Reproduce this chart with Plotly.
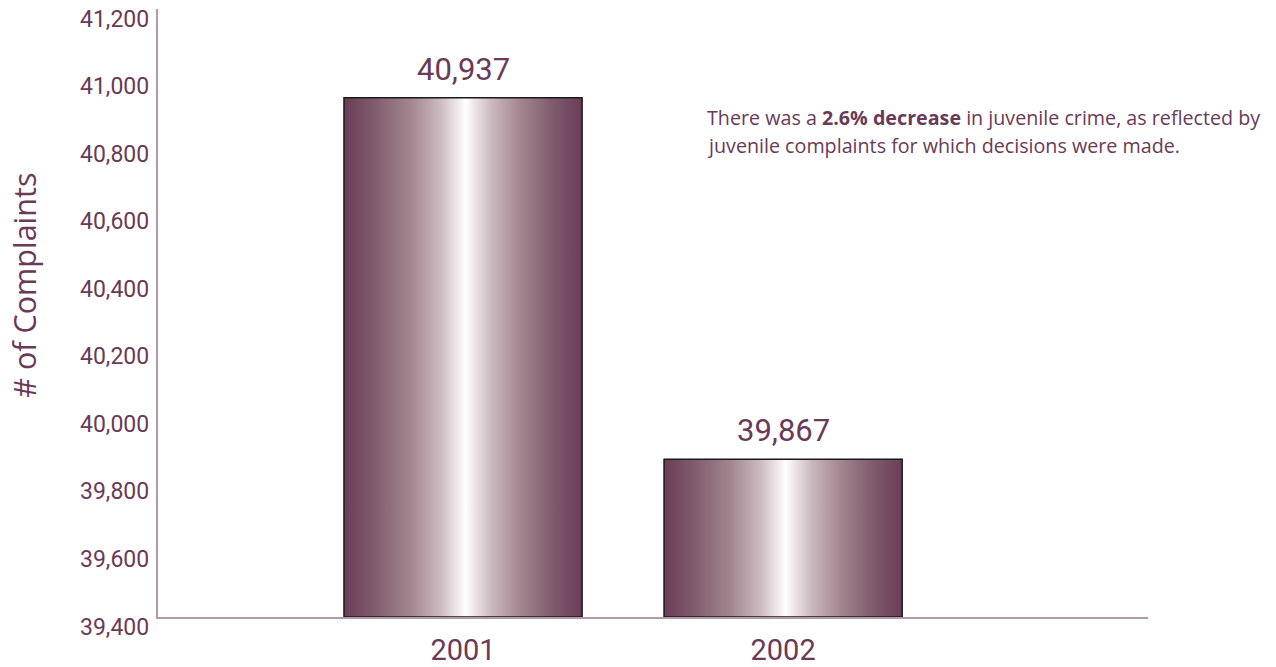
import plotly.graph_objects as go

categories = ["2001", "2002"]
values = [40937, 39867]
value_labels = ["40,937", "39,867"]
y_ticks = [39400, 39600, 39800, 40000, 40200, 40400, 40600, 40800, 41000, 41200]
y_tick_labels = ["39,400", "39,600", "39,800", "40,000", "40,200", "40,400", "40,600", "40,800", "41,000", "41,200"]
y_title = "# of Complaints"
note_lines = ["There was a <b>2.6% decrease</b> in juvenile crime, as reflected by",
              "juvenile complaints for which decisions were made."]

Y_MIN, Y_MAX = 39400, 41200
BAR_W = 0.744
PURPLE = "#6a3a57"
AXIS_C = "#b39aa8"
FONT = "Roboto"

grad = [
    [0.0, "#6a3d57"],
    [0.12, "#7e5a6c"],
    [0.28, "#a38690"],
    [0.40, "#cbb8be"],
    [0.47, "#ece4e6"],
    [0.51, "#ffffff"],
    [0.55, "#ece4e6"],
    [0.62, "#cbb8be"],
    [0.74, "#a38690"],
    [0.88, "#7e5a6c"],
    [1.0, "#6a3d57"],
]

fig = go.Figure()
for i, (cat, v) in enumerate(zip(categories, values)):
    x0, x1 = i - BAR_W / 2, i + BAR_W / 2
    fig.add_trace(go.Scatter(
        x=[x0, x1, x1, x0, x0],
        y=[Y_MIN, Y_MIN, v, v, Y_MIN],
        mode="lines",
        fill="toself",
        fillgradient=dict(type="horizontal", colorscale=grad),
        line=dict(color="#1a1a1a", width=1.5),
        hoverinfo="skip",
        showlegend=False,
    ))

annotations = []
for i, (v, lab) in enumerate(zip(values, value_labels)):
    annotations.append(dict(x=i, y=v, xref="x", yref="y", text=lab, showarrow=False,
                            yanchor="bottom", yshift=8,
                            font=dict(family=FONT, size=31, color=PURPLE)))
for t, lab in zip(y_ticks, y_tick_labels):
    annotations.append(dict(x=0, y=t, xref="paper", yref="y", text=lab, showarrow=False,
                            xanchor="right", yanchor="middle", xshift=-7, yshift=-10,
                            font=dict(family=FONT, size=23, color=PURPLE)))
annotations.append(dict(x=0, y=0.545, xref="paper", yref="paper", text=y_title,
                        showarrow=False, textangle=-90, xanchor="center", yanchor="middle",
                        xshift=-134,
                        font=dict(family="Open Sans", size=30.5, color=PURPLE)))
for k, line in enumerate(note_lines):
    annotations.append(dict(x=0.553, y=1, xref="paper", yref="paper",
                            text=line, showarrow=False, xanchor="left", yanchor="middle",
                            align="left", yshift=-108 - 28 * k, xshift=0,
                            font=dict(family="Open Sans", size=19.7, color=PURPLE)))

fig.update_layout(
    width=1276, height=667,
    margin=dict(l=158, r=128, t=9, b=50),
    paper_bgcolor="white", plot_bgcolor="white",
    annotations=annotations,
    xaxis=dict(
        range=[-0.953, 2.14],
        tickmode="array", tickvals=list(range(len(categories))), ticktext=categories,
        tickfont=dict(family=FONT, size=29, color=PURPLE),
        showgrid=False, zeroline=False, automargin=False,
        showline=True, linecolor=AXIS_C, linewidth=2,
        ticks="", ticklabelstandoff=6,
    ),
    yaxis=dict(
        range=[Y_MIN, Y_MAX],
        showticklabels=False, automargin=False,
        showgrid=False, zeroline=False,
        showline=True, linecolor=AXIS_C, linewidth=2,
        ticks="",
    ),
)
fig.write_html("out.html", config={"displayModeBar": False},
               post_script="document.body.style.margin='0';")
